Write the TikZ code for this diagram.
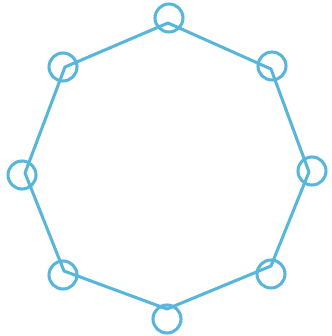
\documentclass[tikz,border=0pt]{standalone}
\definecolor{octblue}{RGB}{88,182,218}
\tikzset{
  edge/.style={draw=octblue, line width=2.6pt, line join=round},
  ring/.style={circle, draw=octblue, line width=2.6pt, minimum size=28\unitpx, inner sep=0pt},
}
\newlength{\unitpx}
\setlength{\unitpx}{0.03cm}
\begin{document}
\begin{tikzpicture}[x=0.03cm, y=-0.03cm]
\useasboundingbox (0,0) rectangle (331,336);
\coordinate (v1) at (168,23);
\coordinate (v2) at (271,69);
\coordinate (v3) at (309,172);
\coordinate (v4) at (271,266);
\coordinate (v5) at (167,309);
\coordinate (v6) at (64,271);
\coordinate (v7) at (25,173);
\coordinate (v8) at (65,67);
\draw[edge] (v1) -- (v2) -- (v3) -- (v4) -- (v5) -- (v6) -- (v7) -- (v8) -- cycle;
\node[ring] (c1) at (169,18) {};
\node[ring] (c2) at (272,66) {};
\node[ring] (c3) at (312,171) {};
\node[ring] (c4) at (271,274) {};
\node[ring] (c5) at (167,319) {};
\node[ring] (c6) at (63,275) {};
\node[ring] (c7) at (22,175) {};
\node[ring] (c8) at (63,67) {};
\end{tikzpicture}
\end{document}
